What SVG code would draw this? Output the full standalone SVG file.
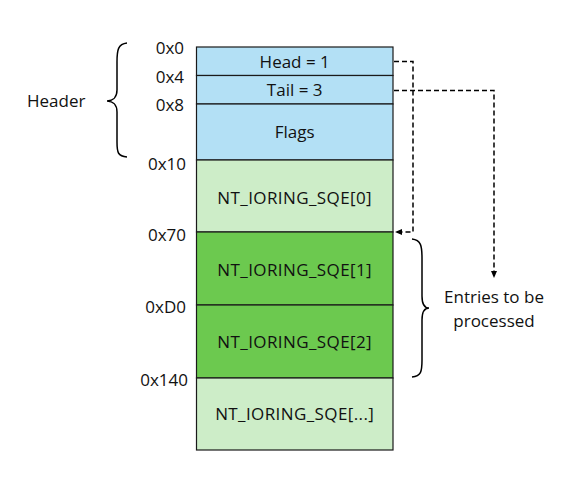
<svg xmlns="http://www.w3.org/2000/svg" width="585" height="486" viewBox="0 0 585 486">
<defs>
<marker id="ah" markerWidth="8" markerHeight="8" refX="7" refY="4" orient="auto" markerUnits="userSpaceOnUse">
<path d="M0,1 L7,4 L0,7 Z" fill="#000"/>
</marker>
<style>
.box{stroke:#1a1a1a;stroke-width:1.2}
.blue{fill:#b3e0f5}
.lg{fill:#cdedc8}
.dg{fill:#6cc94f}
text{font-family:"Open Sans","Noto Sans","Liberation Sans",sans-serif;font-size:17px;fill:#111}
.c{text-anchor:middle}
.r{text-anchor:end}
.sq{letter-spacing:0.4px}
.dash{fill:none;stroke:#000;stroke-width:1.5;stroke-dasharray:5,3}
.brace{fill:none;stroke:#000;stroke-width:1.5}
</style>
</defs>
<rect width="585" height="486" fill="#fff"/>
<g id="head"><rect class="box blue" x="196.5" y="47" width="196.5" height="28.5"/><text class="c" x="294.7" y="68">Head = 1</text></g>
<g id="tail"><rect class="box blue" x="196.5" y="75.5" width="196.5" height="28.5"/><text class="c" x="294.7" y="96">Tail = 3</text></g>
<g id="flags"><rect class="box blue" x="196.5" y="104" width="196.5" height="56"/><text class="c" x="294.7" y="138">Flags</text></g>
<g id="sqe0"><rect class="box lg" x="196.5" y="160" width="196.5" height="72"/><text class="c sq" x="294.7" y="204">NT_IORING_SQE[0]</text></g>
<g id="sqe1"><rect class="box dg" x="196.5" y="232" width="196.5" height="73"/><text class="c sq" x="294.7" y="276">NT_IORING_SQE[1]</text></g>
<g id="sqe2"><rect class="box dg" x="196.5" y="305" width="196.5" height="73"/><text class="c sq" x="294.7" y="348">NT_IORING_SQE[2]</text></g>
<g id="sqen"><rect class="box lg" x="196.5" y="378" width="196.5" height="72"/><text class="c sq" x="294.7" y="420">NT_IORING_SQE[...]</text></g>
<g id="offsets">
<text class="r" x="184" y="54">0x0</text>
<text class="r" x="184" y="83">0x4</text>
<text class="r" x="184" y="111">0x8</text>
<text class="r" x="186" y="170">0x10</text>
<text class="r" x="186" y="241">0x70</text>
<text class="r" x="186" y="313">0xD0</text>
<text class="r" x="188" y="386">0x140</text>
</g>
<g id="header-label">
<path class="brace" d="M127,43 C118,44 117,50 117,62 L117,90 C117,98 112,101 107,101 C112,101 117,104 117,112 L117,142 C117,153 118,156 127,157"/>
<text x="27" y="107">Header</text>
</g>
<g id="entries-label">
<path class="brace" d="M412,239 C421,240 422,246 422,258 L422,296 C422,304 424,308 429,308 C424,308 422,312 422,320 L422,360 C422,372 421,376 412,377"/>
<text class="c" x="494" y="303">Entries to be</text>
<text class="c" x="494" y="327">processed</text>
</g>
<g id="connectors">
<path class="dash" d="M394,61.5 H413 V232 H395" marker-end="url(#ah)"/>
<path class="dash" d="M394,90.5 H494 V278" marker-end="url(#ah)"/>
</g>
</svg>
